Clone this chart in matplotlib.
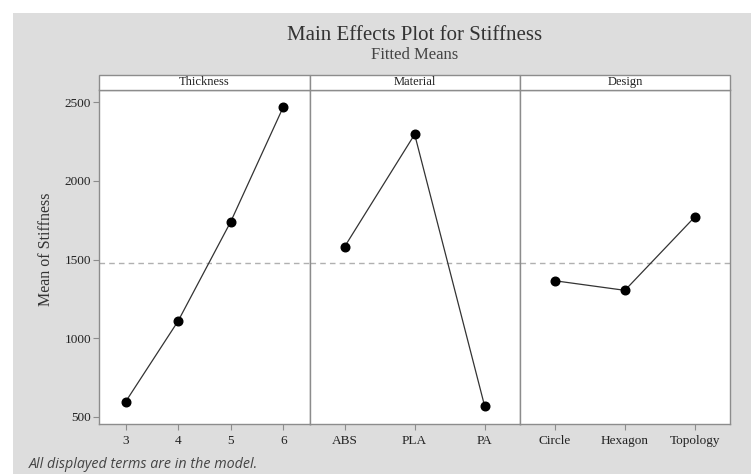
import matplotlib
matplotlib.use("Agg")
import matplotlib.pyplot as plt
from matplotlib.patches import Rectangle

# Data
factors = ["Thickness", "Material", "Design"]
thickness_levels = ["3", "4", "5", "6"]
thickness_means = [595, 1109, 1740, 2470]
material_levels = ["ABS", "PLA", "PA"]
material_means = [1581, 2296, 566]
design_levels = ["Circle", "Hexagon", "Topology"]
design_means = [1365, 1304, 1772]
grand_mean = 1480
yticks = [500, 1000, 1500, 2000, 2500]

levels_all = [thickness_levels, material_levels, design_levels]
means_all = [thickness_means, material_means, design_means]

W, H = 751, 474
fig = plt.figure(figsize=(W / 100, H / 100), dpi=100)
fig.patch.set_facecolor("white")

# gray background panel
bg = Rectangle((13 / W, 0), 1 - 13 / W, 1 - 13 / H, transform=fig.transFigure,
               facecolor="#dddddd", edgecolor="none", zorder=-10)
fig.add_artist(bg)

serif = ["Liberation Serif", "DejaVu Serif"]
edge = "#8c8c8c"

left_px, right_px = 99.3, 730.0
top_px, bottom_px = 89.7, 424.0
strip_top_px = 74.7
pw = (right_px - left_px) / 3

for i, (fac, levs, vals) in enumerate(zip(factors, levels_all, means_all)):
    x0 = left_px + i * pw
    ax = fig.add_axes([x0 / W, 1 - bottom_px / H, pw / W, (bottom_px - top_px) / H])
    ax.set_zorder(1)
    ax.set_facecolor("white")
    xs = list(range(len(levs)))
    ax.axhline(grand_mean, color="#b0b0b0", lw=1.0, ls=(0, (4, 3)), zorder=1)
    ax.plot(xs, vals, color="#333333", lw=0.9, marker="o", markersize=6.2,
            markerfacecolor="black", markeredgecolor="black", zorder=3)
    ax.set_xlim(-0.5, len(levs) - 0.5)
    ax.set_ylim(454, 2580)
    ax.set_xticks(xs)
    ax.set_xticklabels(levs, fontfamily=serif, fontsize=9.5, color="#222222")
    ax.set_yticks(yticks)
    if i == 0:
        ax.set_yticklabels([str(t) for t in yticks], fontfamily=serif, fontsize=9.5, color="#222222")
        ax.tick_params(axis="y", length=4, color=edge, pad=2)
    else:
        ax.tick_params(axis="y", left=False, labelleft=False)
    ax.tick_params(axis="x", length=4, color=edge, pad=4)
    for s in ax.spines.values():
        s.set_color(edge)
        s.set_linewidth(1.0)
    # strip
    strip = Rectangle((x0 / W, 1 - top_px / H), pw / W, (top_px - strip_top_px) / H,
                      transform=fig.transFigure, facecolor="white", edgecolor=edge,
                      lw=1.0, zorder=2)
    fig.add_artist(strip)
    fig.text((x0 + pw / 2) / W, 1 - (top_px + strip_top_px) / 2 / H, fac,
             ha="center", va="center", fontfamily=serif, fontsize=9, color="#222222", zorder=3)

fig.text(46.5 / W, 1 - 249 / H, "Mean of Stiffness", rotation=90, ha="center", va="center",
         fontfamily=serif, fontsize=11.5, color="#333333")

fig.text(414.5 / W, 1 - 35 / H, "Main Effects Plot for Stiffness", ha="center", va="center",
         fontfamily=serif, fontsize=15, color="#333333")
fig.text(414.5 / W, 1 - 55 / H, "Fitted Means", ha="center", va="center",
         fontfamily=serif, fontsize=12, color="#444444")

fig.text(29 / W, 1 - 465 / H, "All displayed terms are in the model.", ha="left", va="center",
         fontfamily=["Open Sans", "DejaVu Sans"], fontstyle="italic", fontsize=10.3, color="#444444")

fig.savefig("out.png", dpi=100)
